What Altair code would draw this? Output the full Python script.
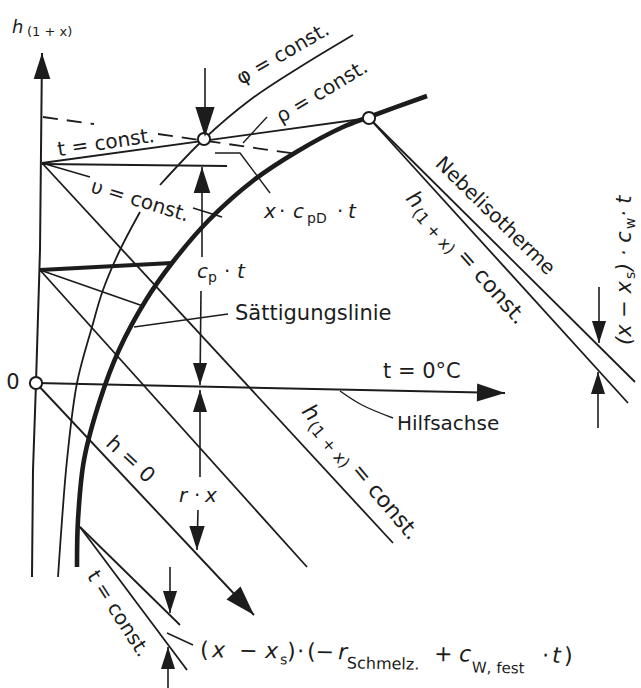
import math
import altair as alt
import pandas as pd

INK = "#1c1c1c"
FONT = "DejaVu Sans"
CANVAS_W, CANVAS_H = 641, 688

# ---------------- curves ----------------
SAT_X = [77, 78, 84, 100, 119, 146, 172, 209, 254, 298, 343, 369, 427]
SAT_Y = [567, 520, 460, 400, 350, 300, 263, 220, 180, 151, 127, 117, 96]
PHI_LOW_X = [58, 62, 67, 77, 92, 103, 120, 140]
PHI_LOW_Y = [577, 520, 460, 383, 327, 290, 250, 212]
PHI_UP_X = [160, 204, 250, 300, 353]
PHI_UP_Y = [185, 139, 100, 67, 35]
HILF_LEAD_X = [340, 362, 393]
HILF_LEAD_Y = [391, 405, 418]

# ---------------- straight lines ----------------
AXIS_H_X = [42, 40, 36, 33, 32]
AXIS_H_Y = [53, 250, 383, 470, 577]
AXIS_X_X = [36, 505]
AXIS_X_Y = [383, 393]
T_CONST_X = [42, 369]
T_CONST_Y = [163, 118]
HORIZ_X = [42, 227]
HORIZ_Y = [164, 166]
H_UPPER_X = [42, 393]
H_UPPER_Y = [163, 543]
V_CONST_A_X = [42, 90]
V_CONST_A_Y = [163, 177]
V_CONST_B_X = [193, 222]
V_CONST_B_Y = [208, 217]
THICK_HORIZ_X = [40, 172]
THICK_HORIZ_Y = [270, 263]
T_LOW_X = [40, 143]
T_LOW_Y = [270, 306]
H_MID_X = [40, 307]
H_MID_Y = [270, 567]
H_ZERO_X = [36, 254]
H_ZERO_Y = [383, 615]
NEBEL_X = [369, 635]
NEBEL_Y = [118, 382]
H_RIGHT_X = [369, 628]
H_RIGHT_Y = [118, 403]
SAT_LEAD_X = [134, 228]
SAT_LEAD_Y = [327, 314]
XCP_LEAD_X = [215, 240, 270]
XCP_LEAD_Y = [153, 153, 193]
RHO_LEAD_X = [267, 243]
RHO_LEAD_Y = [117, 143]
ICE_A_X = [80, 180]
ICE_A_Y = [527, 625]
ICE_B_X = [80, 187]
ICE_B_Y = [527, 670]
ICE_LEAD_X = [167, 193]
ICE_LEAD_Y = [633, 645]
DASH_A_X = [43, 94]
DASH_A_Y = [117, 124]
DASH_B_X = [158, 297]
DASH_B_Y = [134, 154]

# dimension lines: x1, y1, x2, y2
DIM_X1 = [205, 202, 201, 200, 198, 599, 598, 170, 168]
DIM_Y1 = [68, 167, 291, 390, 510, 287, 372, 567, 688]
DIM_X2 = [205, 202, 200, 200, 197, 599, 598, 170, 168]
DIM_Y2 = [137, 257, 385, 477, 550, 343, 428, 613, 647]

# arrow heads: tip position, heading (deg, clockwise from up), length
ARROW_X = [42, 505, 205, 202, 200, 200, 197, 254, 599, 598, 170, 168]
ARROW_Y = [53, 393, 137, 167, 385, 390, 550, 615, 343, 372, 613, 647]
ARROW_HEAD = [0, 91, 180, 0, 180, 0, 180, 137, 180, 0, 180, 0]
ARROW_LEN = [26, 28, 30, 26, 22, 22, 24, 30, 22, 22, 22, 22]

# state points
DOT_X = [36, 204, 369]
DOT_Y = [383, 139, 118]

# plain labels (centred)
LABEL_TEXT = ["φ = const.", "ρ = const.", "t = const.", "υ = const.", "Nebelisotherme",
              "h = 0", "t = const.", "0"]
LABEL_X = [283, 322, 106, 140, 495, 130, 118, 13]
LABEL_Y = [54, 92, 143, 201, 216, 460, 614, 383]
LABEL_ANGLE = [330, 329, 351.5, 17, 44.5, 43, 57.4, 0]
LABEL_SIZE = [20, 20, 20, 20, 20, 21, 20, 21]

# left-aligned labels
WORD_TEXT = ["Sättigungslinie", "Hilfsachse", "t = 0°C"]
WORD_X = [235, 397, 383]
WORD_Y = [314, 424, 372]
WORD_SIZE = [21, 20, 21]


def frame(lines):
    rows = []
    for name, xs, ys, w in lines:
        for k, (x, y) in enumerate(zip(xs, ys)):
            rows.append({"line": name, "k": k, "x": x, "y": y, "w": w})
    return pd.DataFrame(rows)


def run(sx, sy, angle, pieces):
    """Place text pieces one after another along a baseline."""
    th = math.radians(angle)
    ux, uy = math.cos(th), math.sin(th)
    nx, ny = -math.sin(th), math.cos(th)
    rows = []
    for txt, off, drop, size, italic in pieces:
        rows.append({"t": txt, "x": sx + off * ux + drop * nx, "y": sy + off * uy + drop * ny,
                     "a": angle % 360, "s": size, "it": italic})
    return rows


X = alt.X("x:Q", scale=alt.Scale(domain=[0, CANVAS_W], nice=False, zero=False), axis=None)
Y = alt.Y("y:Q", scale=alt.Scale(domain=[0, CANVAS_H], nice=False, zero=False, reverse=True), axis=None)

THIN = 1.8
straight = frame([
    ("axis_h", AXIS_H_X, AXIS_H_Y, 2.0), ("axis_x", AXIS_X_X, AXIS_X_Y, 2.0),
    ("t_const", T_CONST_X, T_CONST_Y, THIN), ("horiz", HORIZ_X, HORIZ_Y, THIN),
    ("h_upper", H_UPPER_X, H_UPPER_Y, THIN), ("v_a", V_CONST_A_X, V_CONST_A_Y, 1.6),
    ("v_b", V_CONST_B_X, V_CONST_B_Y, 1.6), ("thick_h", THICK_HORIZ_X, THICK_HORIZ_Y, 4.2),
    ("t_low", T_LOW_X, T_LOW_Y, THIN), ("h_mid", H_MID_X, H_MID_Y, THIN),
    ("h_zero", H_ZERO_X, H_ZERO_Y, 1.9), ("nebel", NEBEL_X, NEBEL_Y, THIN),
    ("h_right", H_RIGHT_X, H_RIGHT_Y, THIN), ("sat_lead", SAT_LEAD_X, SAT_LEAD_Y, 1.4),
    ("xcp_lead", XCP_LEAD_X, XCP_LEAD_Y, 1.4), ("rho_lead", RHO_LEAD_X, RHO_LEAD_Y, 1.4),
    ("ice_a", ICE_A_X, ICE_A_Y, THIN), ("ice_b", ICE_B_X, ICE_B_Y, THIN),
    ("ice_lead", ICE_LEAD_X, ICE_LEAD_Y, 1.4),
] + [(f"dim{i}", [DIM_X1[i], DIM_X2[i]], [DIM_Y1[i], DIM_Y2[i]], 1.6) for i in range(len(DIM_X1))])

curves = frame([
    ("sat", SAT_X, SAT_Y, 4.6), ("phi_low", PHI_LOW_X, PHI_LOW_Y, THIN),
    ("phi_up", PHI_UP_X, PHI_UP_Y, THIN), ("hilf", HILF_LEAD_X, HILF_LEAD_Y, 1.4),
])

dashed = frame([("dash_a", DASH_A_X, DASH_A_Y, THIN), ("dash_b", DASH_B_X, DASH_B_Y, THIN)])


def line_layer(df, **kw):
    return alt.Chart(df).mark_line(color=INK, strokeCap="butt", strokeJoin="round", **kw).encode(
        x=X, y=Y, detail="line:N", order="k:Q", strokeWidth=alt.StrokeWidth("w:Q", scale=None))


arrows = pd.DataFrame({"x": ARROW_X, "y": ARROW_Y, "a": [h % 360 for h in ARROW_HEAD],
                       "s": [4 * L * L for L in ARROW_LEN]})
dots = pd.DataFrame({"x": DOT_X, "y": DOT_Y})
labels = pd.DataFrame({"t": LABEL_TEXT, "x": LABEL_X, "y": LABEL_Y, "a": LABEL_ANGLE, "s": LABEL_SIZE})
words = pd.DataFrame({"t": WORD_TEXT, "x": WORD_X, "y": WORD_Y, "a": 0, "s": WORD_SIZE})

pieces = []
# ordinate label h_(1+x)
pieces += run(12, 33, 0, [("h", 0, 0, 18, True), ("(1 + x)", 15, 3, 13, False)])
# c_p · t
pieces += run(197, 278, 0, [("c", 0, 0, 20, True), ("p", 11, 4, 14, False),
                            ("·", 27, 0, 20, False), ("t", 40, 0, 20, True)])
# x · c_pD · t
pieces += run(264, 218, 0, [("x", 0, 0, 20, True), ("·", 15, 0, 20, False), ("c", 29, 0, 20, True),
                            ("pD", 43, 5, 14, False), ("·", 73, 0, 20, False), ("t", 84, 0, 20, True)])
# r · x
pieces += run(179, 502, 0, [("r", 0, 0, 20, True), ("·", 15, 0, 20, False), ("x", 26, 0, 20, True)])
# bottom formula
pieces += run(200, 657, 0.95, [("(", 0, 0, 22, False), ("x", 12, 0, 22, True), ("−", 39, 0, 22, False),
                               ("x", 65, 0, 22, True), ("s", 80, 6, 14, False), (")", 87, 0, 22, False),
                               ("·", 97, 0, 22, False), ("(−", 107, 0, 22, False),
                               ("r", 138, 0, 22, True), ("Schmelz.", 147, 9, 16, False),
                               ("+", 234, 0, 22, False), ("c", 259, 0, 22, True),
                               ("W, fest", 272, 11, 15, False), ("·", 342, 0, 22, False),
                               ("t", 352, 0, 22, True), (")", 364, 0, 22, False)])
# (x − x_s) · c_w · t, reading upward
pieces += run(631, 345, 270, [("(x − x", 0, 0, 21, True), ("s", 66, 4, 14, False),
                              (") · c", 74, 0, 21, True), ("w", 116, 4, 14, False),
                              ("· t", 128, 0, 21, True)])
# h_(1+x) = const. along the enthalpy lines
for sx, sy, ang in [(301, 412, 50), (405, 199, 48.6)]:
    pieces += run(sx, sy, ang, [("h", 0, 0, 22, True), ("(1 + x)", 15, 5, 16, False),
                                ("= const.", 77, 0, 22, False)])
pieces = pd.DataFrame(pieces)


def text_layer(df, align, baseline, style="normal"):
    return alt.Chart(df).mark_text(align=align, baseline=baseline, font=FONT, fontStyle=style,
                                   color=INK).encode(
        x=X, y=Y, text="t:N", angle=alt.Angle("a:Q", scale=None), size=alt.Size("s:Q", scale=None))


layers = [
    line_layer(straight),
    line_layer(curves, interpolate="catmull-rom"),
    line_layer(dashed, strokeDash=[15, 9]),
    alt.Chart(dots).mark_point(shape="circle", filled=True, fill="white", stroke=INK, strokeWidth=2,
                               size=150, opacity=1).encode(x=X, y=Y),
    alt.Chart(arrows).mark_point(shape="M0,0L0.32,1L-0.32,1Z", filled=True, color=INK, opacity=1).encode(
        x=X, y=Y, angle=alt.Angle("a:Q", scale=None), size=alt.Size("s:Q", scale=None)),
    text_layer(labels, "center", "middle"),
    text_layer(words, "left", "middle"),
    text_layer(pieces[~pieces["it"]], "left", "alphabetic"),
    text_layer(pieces[pieces["it"]], "left", "alphabetic", "italic"),
]

chart = alt.layer(*layers).properties(
    width=CANVAS_W, height=CANVAS_H, padding=0,
    autosize=alt.AutoSizeParams(type="none"), background="white",
).configure_view(stroke=None)

chart.save("out.html", embed_options={"renderer": "svg", "actions": False})
